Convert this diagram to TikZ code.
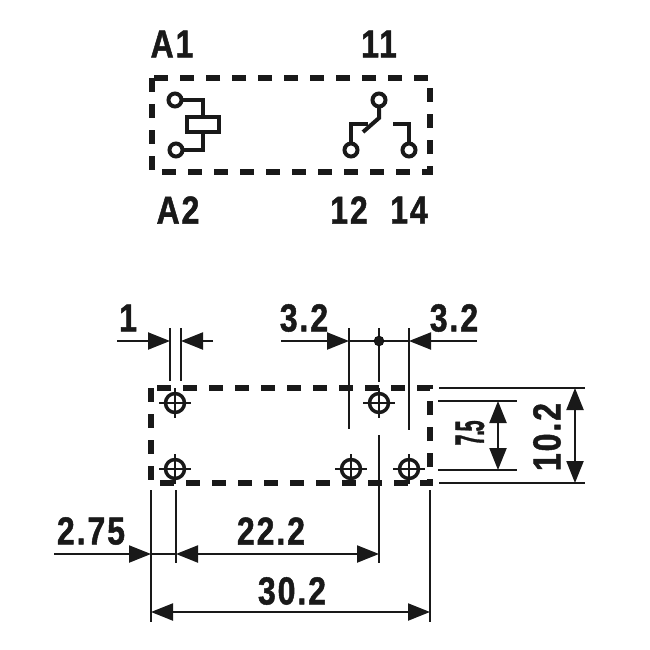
\documentclass[tikz,border=0pt]{standalone}
\usepackage{fontspec}
\setmainfont[FakeStretch=0.82,LetterSpace=5,BoldFeatures={FakeBold=1.2}]{Liberation Sans}
\usetikzlibrary{arrows.meta}
\def\pinhole(#1,#2){\draw[line width=3.5pt, color=black!90] (#1, #2) circle (9.5);
	\draw[extline] (#1-16, #2) -- (#1+16, #2);
	\draw[extline] (#1, #2-15) -- (#1, #2+15);}
\tikzset{
	dimtext/.style={font=\fontsize{39}{39}\selectfont\bfseries, text=black!90, inner sep=0pt},
	extline/.style={line width=2.2pt, color=black!90},
	dimline/.style={line width=2.2pt, color=black!90, {Triangle[length=22pt, width=17pt]}-{Triangle[length=22pt, width=17pt]}},
	dimin/.style={line width=2.2pt, color=black!90, -{Triangle[length=22pt, width=17pt]}},
	dashbox/.style={line width=5.5pt, color=black!90, dash pattern=on 14pt off 12pt},
	wire/.style={line width=4pt, color=black!90, line join=miter},
	terminal/.style={line width=4pt, color=black!90, fill=white}
}
\begin{document}
\begin{tikzpicture}[x=1pt, y=-1pt]
	%%%%% SCHEMATIC %%%%%
	\useasboundingbox (0, 0) rectangle (650, 650);
	\draw[dashbox] (152, 78) rectangle (430, 172);

	% coil
	\draw[wire] (175, 100) -- (203, 100) -- (203, 117);
	\draw[wire] (203, 132) -- (203, 150) -- (176, 150);
	\draw[wire] (187, 117) rectangle (219, 132);
	\draw[terminal] (175, 100) circle (6.5);
	\draw[terminal] (176, 150) circle (6.5);

	% contact
	\draw[wire] (379, 100) -- (379, 118) -- (363, 132);
	\draw[wire] (351, 150) -- (351, 124) -- (368, 124);
	\draw[wire] (409, 150) -- (409, 124) -- (393, 124);
	\draw[terminal] (379, 100) circle (6.5);
	\draw[terminal] (351, 150) circle (6.5);
	\draw[terminal] (409, 150) circle (6.5);

	\node[dimtext] (labelAone) at (172, 44) {A1};
	\node[dimtext] (labelEleven) at (379, 44) {11};
	\node[dimtext] (labelAtwo) at (178, 210) {A2};
	\node[dimtext] (labelTwelve) at (349, 210) {12};
	\node[dimtext] (labelFourteen) at (409, 210) {14};

	%%%%% FOOTPRINT %%%%%
	\draw[dashbox] (151, 388) rectangle (430, 483);
	\pinhole(175,403)
	\pinhole(175,469)
	\pinhole(379,403)
	\pinhole(351,469)
	\pinhole(409,469)

	% top dimensions
	\draw[extline] (170, 328) -- (170, 381);
	\draw[extline] (181, 328) -- (181, 381);
	\draw[dimin] (117, 341) -- (170, 341);
	\draw[dimin] (213, 341) -- (181, 341);
	\node[dimtext] (labelOne) at (128, 318) {1};

	\draw[extline] (349, 328) -- (349, 429);
	\draw[extline] (409, 328) -- (409, 430);
	\draw[extline] (379, 328) -- (379, 382);
	\draw[extline] (379, 435) -- (379, 563);
	\draw[extline] (349, 341) -- (409, 341);
	\draw[fill=black!90] (379, 341) circle (5);
	\draw[dimin] (281, 341) -- (349, 341);
	\draw[dimin] (477, 341) -- (409, 341);
	\node[dimtext] (labelPitchL) at (304, 318) {3.2};
	\node[dimtext] (labelPitchR) at (454, 318) {3.2};

	% right dimensions
	\draw[extline] (439, 388) -- (585, 388);
	\draw[extline] (439, 483) -- (585, 483);
	\draw[extline] (438, 401) -- (517, 401);
	\draw[extline] (438, 470) -- (517, 470);
	\draw[dimline] (498, 401) -- (498, 470);
	\draw[dimline] (575, 388) -- (575, 483);
	\node[dimtext, rotate=90, xscale=0.62, yscale=1.05] (labelRow) at (470, 433) {7\kern-.05em.\kern-.05em5};
	\node[dimtext, rotate=90] (labelHeight) at (547, 437) {10.2};

	% bottom dimensions
	\draw[extline] (151, 490) -- (151, 622);
	\draw[extline] (176, 490) -- (176, 563);
	\draw[extline] (430, 490) -- (430, 622);
	\draw[extline] (151, 554) -- (176, 554);
	\draw[dimin] (54, 554) -- (151, 554);
	\draw[dimline] (176, 554) -- (379, 554);
	\draw[dimline] (151, 612) -- (430, 612);
	\node[dimtext] (labelOffset) at (91, 531) {2.75};
	\node[dimtext] (labelSpan) at (271, 531) {22.2};
	\node[dimtext] (labelWidth) at (292, 591) {30.2};
\end{tikzpicture}
\end{document}
